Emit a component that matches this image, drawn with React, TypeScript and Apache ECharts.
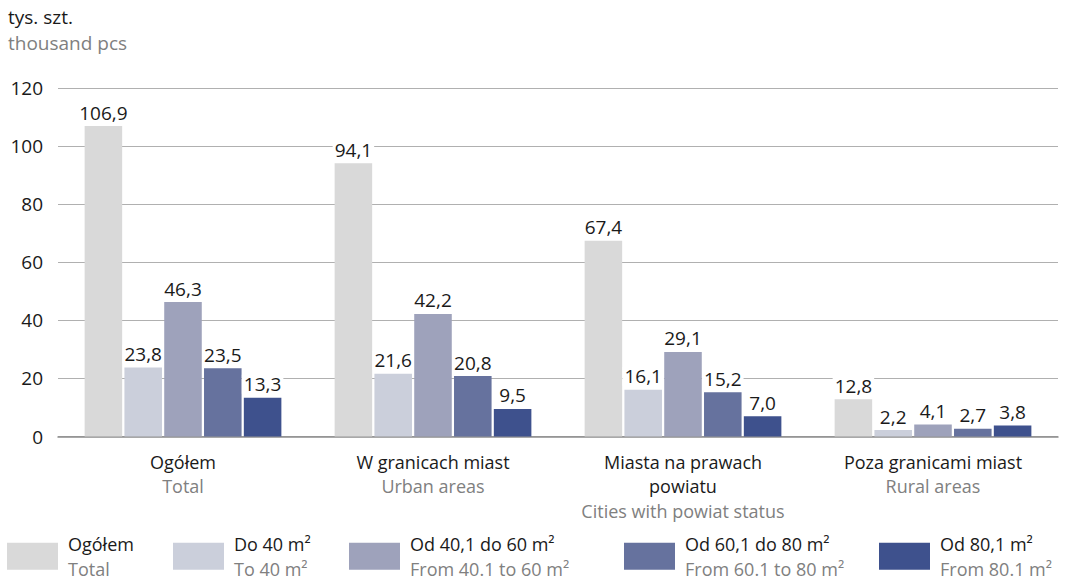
import React, { useEffect, useRef } from "react";
import * as echarts from "echarts";

const categories = [
  "{a|Ogółem}\n{b|Total}",
  "{a|W granicach miast}\n{b|Urban areas}",
  "{a|Miasta na prawach}\n{a|powiatu}\n{b|Cities with powiat status}",
  "{a|Poza granicami miast}\n{b|Rural areas}",
];

const seriesNames = ["Ogółem", "Do 40 m²", "Od 40,1 do 60 m²", "Od 60,1 do 80 m²", "Od 80,1 m²"];
const seriesNamesEn = ["Total", "To 40 m²", "From 40.1 to 60 m²", "From 60.1 to 80 m²", "From 80.1 m²"];
const colors = ["#d9d9d9", "#cbcfdb", "#9ea2bb", "#66729e", "#3e518d"];

const total = [106.9, 94.1, 67.4, 12.8];
const to40 = [23.8, 21.6, 16.1, 2.2];
const from40to60 = [46.3, 42.2, 29.1, 4.1];
const from60to80 = [23.5, 20.8, 15.2, 2.7];
const from80 = [13.3, 9.5, 7.0, 3.8];
const seriesData = [total, to40, from40to60, from60to80, from80];

const yTicks = [0, 20, 40, 60, 80, 100, 120];
const legendLefts = [7, 173, 349, 624, 879];

const FONT = "'Open Sans', 'Noto Sans', sans-serif";
const FS = 19;
const FSM = 18;
const LH = 24.6;
const DARK = "#1a1a1a";
const GREY = "#808080";

export default function App() {
  const ref = useRef<HTMLDivElement>(null);
  useEffect(() => {
    if (!ref.current) return;
    const chart = echarts.init(ref.current, null, { renderer: "svg" });
    chart.setOption({
      animation: false,
      textStyle: { fontFamily: FONT },
      title: {
        text: "{a|tys. szt.}\n{b|thousand pcs}",
        left: 8,
        top: 4,
        padding: 0,
        textStyle: {
          fontWeight: "normal",
          rich: {
            a: { fontSize: FS, fontWeight: "normal", color: DARK, lineHeight: 26, fontFamily: FONT },
            b: { fontSize: FS, fontWeight: "normal", color: GREY, lineHeight: 26, fontFamily: FONT },
          },
        },
      },
      legend: seriesNames.map((n, i) => ({
        data: [n],
        left: legendLefts[i],
        top: 535,
        itemWidth: 51,
        itemHeight: 27,
        itemGap: 0,
        icon: "rect",
        padding: 0,
        selectedMode: false,
        formatter: (name: string) => `{a|${name}}\n{b|${seriesNamesEn[seriesNames.indexOf(name)]}}`,
        textStyle: {
          rich: {
            a: { fontSize: FSM, color: DARK, lineHeight: LH, fontFamily: FONT, padding: [0, 0, 0, 5] },
            b: { fontSize: FSM, color: GREY, lineHeight: LH, fontFamily: FONT, padding: [0, 0, 0, 5] },
          },
        },
      })),
      grid: { left: 58, right: 18, top: 88, bottom: 147.5, containLabel: false },
      xAxis: {
        type: "category",
        data: categories,
        axisTick: { show: false },
        axisLine: { lineStyle: { color: "#8c8c8c", width: 1.5 } },
        axisLabel: {
          margin: 13,
          interval: 0,
          rich: {
            a: { fontSize: FSM, color: DARK, lineHeight: LH, fontFamily: FONT },
            b: { fontSize: FSM, color: GREY, lineHeight: LH, fontFamily: FONT },
          },
        },
      },
      yAxis: {
        type: "value",
        min: 0,
        max: 120,
        interval: 20,
        axisLine: { show: false },
        axisTick: { show: false },
        axisLabel: {
          margin: 15,
          fontSize: FS,
          color: DARK,
          fontFamily: FONT,
          formatter: (v: number) => (yTicks.includes(v) ? String(v) : ""),
        },
        splitLine: { lineStyle: { color: "#b0b0b0", width: 1 } },
      },
      series: seriesNames.map((n, i) => ({
        name: n,
        type: "bar",
        data: seriesData[i],
        barGap: "6%",
        barCategoryGap: "21.3%",
        itemStyle: { color: colors[i] },
        label: {
          show: true,
          position: "top",
          distance: 4,
          fontSize: FS,
          color: DARK,
          fontFamily: FONT,
          backgroundColor: "#ffffff",
          padding: [0, 2],
          formatter: (p: any) => p.value.toFixed(1).replace(".", ","),
        },
      })),
    });
    return () => chart.dispose();
  }, []);
  return (
    <div
      ref={ref}
      style={{ position: "absolute", left: 0, top: 0, width: 1076, height: 584 }}
    />
  );
}
